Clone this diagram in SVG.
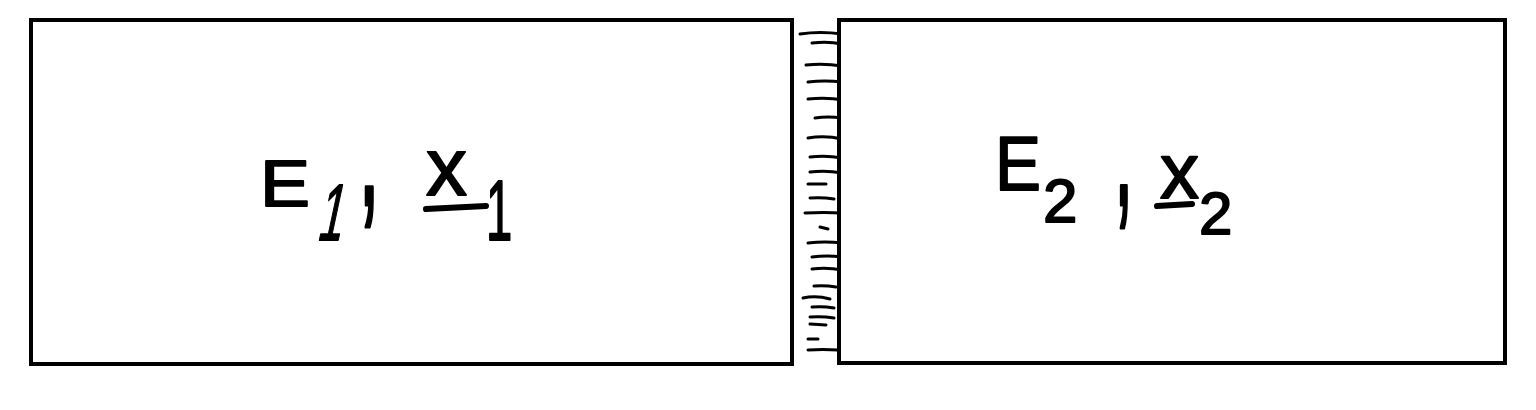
<svg xmlns="http://www.w3.org/2000/svg" width="1536" height="410" viewBox="0 0 1536 410">
<style>
.box{fill:#fff;stroke:#000;stroke-width:4}
.hatch path{fill:none;stroke:#000;stroke-width:3;stroke-linecap:round}
.t{font-family:"Liberation Sans",Arial,sans-serif;fill:#000;stroke:#000;stroke-width:1.8;stroke-linejoin:round}
.ul{stroke:#000;stroke-width:6;stroke-linecap:round}
</style>
<rect width="1536" height="410" fill="#fff"/>
<g id="wall" class="hatch">
<path d="M800 34 Q820 31 842 34"/>
<path d="M812 43 Q828 41 842 44"/>
<path d="M806 65 Q824 63 842 66"/>
<path d="M808 82 Q825 80 842 82"/>
<path d="M808 99 Q826 97 844 100 L843 105"/>
<path d="M815 118 Q828 116 842 118"/>
<path d="M808 138 Q825 135 842 139"/>
<path d="M810 157 Q826 155 842 158"/>
<path d="M810 172 Q826 170 842 173"/>
<path d="M808 184 L826 184"/>
<path d="M810 198 Q822 197 834 199"/>
<path d="M805 213 Q824 212 842 213"/>
<path d="M820 227 L828 229"/>
<path d="M808 243 Q825 241 842 243"/>
<path d="M812 257 Q827 255 842 257"/>
<path d="M812 269 Q827 267 842 270 L843 274"/>
<path d="M814 286 Q825 285 836 287"/>
<path d="M803 298 Q816 295 830 299"/>
<path d="M812 307 Q823 306 834 308"/>
<path d="M810 317 Q822 316 834 318"/>
<path d="M810 324 L826 325"/>
<path d="M808 339 L818 339"/>
<path d="M808 350 Q823 349 838 350"/>
</g>
<g id="system1">
<rect class="box" x="31" y="20" width="761" height="344"/>
<text class="t" x="260" y="206" font-size="64" textLength="50" lengthAdjust="spacingAndGlyphs">E</text>
<text class="t" transform="translate(316,240) skewX(-12) scale(0.55,1)" font-size="80">1</text>
<text class="t" transform="translate(358,205) scale(0.8,1.7)" font-size="100">,</text>
<text class="t" x="426" y="195" font-size="82">x</text>
<line class="ul" x1="426" y1="209" x2="486" y2="206"/>
<text class="t" transform="translate(486,240) scale(0.55,1)" font-size="86">1</text>
</g>
<g id="system2">
<rect class="box" x="839" y="20" width="666" height="343"/>
<text class="t" x="995" y="190" font-size="76" textLength="46" lengthAdjust="spacingAndGlyphs">E</text>
<text class="t" x="1043" y="222" font-size="62">2</text>
<text class="t" transform="translate(1114,205) scale(0.7,1.8)" font-size="100">,</text>
<text class="t" x="1160" y="198" font-size="78">x</text>
<line class="ul" x1="1157" y1="206" x2="1192" y2="204"/>
<text class="t" x="1199" y="234" font-size="60">2</text>
</g>
</svg>
